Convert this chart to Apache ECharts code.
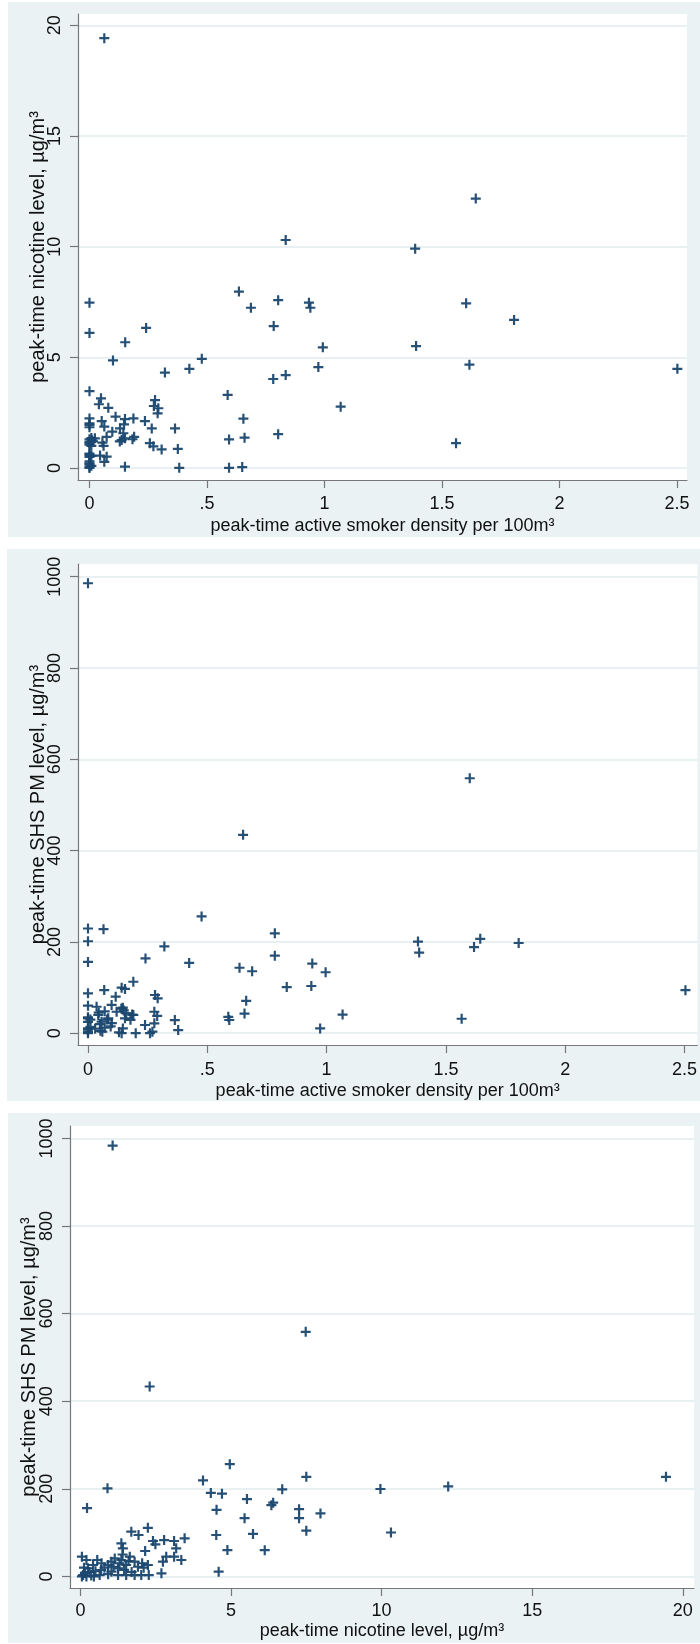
<!DOCTYPE html>
<html><head><meta charset="utf-8">
<script src="https://cdn.jsdelivr.net/npm/echarts@6/dist/echarts.min.js"></script>
<style>html,body{margin:0;padding:0;background:#fff}#c{width:700px;height:1644px}</style>
</head><body><div id="c"></div><script>
// ---- tick labels ----
const densityTicks = [0, 0.5, 1, 1.5, 2, 2.5];
const nicotineTicks = [0, 5, 10, 15, 20];
const pmTicks = [0, 200, 400, 600, 800, 1000];
// ---- titles ----
const densityTitle = 'peak-time active smoker density per 100m³';
const nicotineTitle = 'peak-time nicotine level, µg/m³';
const pmTitle = 'peak-time SHS PM level, µg/m³';
// ---- data: [density, nicotine] ----
const nicotineVsDensity = [
[0.063,19.42],[1.644,12.17],[0.835,10.3],[1.386,9.91],[0.636,7.97],[0,7.47],[0.803,7.58],[0.934,7.47],[0.94,7.24],[0.687,7.24],
[1.603,7.44],[1.807,6.69],[0.784,6.41],[0,6.10],[0.241,6.33],[0.152,5.68],[0.993,5.45],[1.39,5.51],[0.10,4.86],[0.478,4.93],
[1.617,4.67],[0.974,4.56],[2.502,4.48],[0.425,4.48],[0.321,4.31],[0.835,4.20],[0.782,4.02],[0,3.47],[0.588,3.30],[0.049,3.15],
[0.04,2.88],[0.08,2.72],[0.279,3.07],[0.274,2.80],[0.293,2.70],[0.29,2.47],[1.069,2.77],[0,2.24],[0,2.02],[0,1.84],
[0,1.95],[0.052,2.12],[0.063,1.87],[0.111,2.32],[0.151,2.21],[0.187,2.24],[0.236,2.12],[0.147,1.97],[0.13,1.79],[0.265,1.79],
[0.364,1.79],[0.655,2.23],[0.097,1.64],[0.144,1.57],[0.19,1.41],[0.183,1.30],[0.073,1.41],[0.023,1.34],[0,1.19],[0,1.30],
[0,1.05],[0,1.12],[0.01,1.25],[0.137,1.26],[0.151,1.34],[0.129,1.20],[0.594,1.29],[0.66,1.37],[0.803,1.53],[1.56,1.12],
[0.257,1.12],[0.272,0.98],[0.307,0.84],[0.376,0.86],[0,0.59],[0,0.50],[0.045,0.56],[0.073,0.51],[0.063,0.28],[0,0.21],
[0,0.16],[0,0.06],[0,0],[0.151,0.06],[0.382,0.01],[0.594,0.01],[0.65,0.04],[0,0.65],[0.008,0.55],[0,0.3],
[0.008,0.1],[0.008,1.0],[0.008,1.35],[0.015,1.2],[0.06,1.0],[0.055,1.15]
];
// ---- data: [density, PM] ----
const pmVsDensity = [
[0,985.7],[1.6,558.5],[0.65,434.7],[0.476,255.8],[0,229.4],[0.065,227.9],[0.783,218.9],[0,201.5],[1.383,200.8],[1.644,206.8],
[1.618,188.7],[1.805,197.7],[1.388,176.6],[0.32,190.2],[0.783,169.8],[0.241,163.8],[0,156.2],[0.424,154.0],[0.94,152.5],[0.635,143.4],
[0.688,135.8],[0.996,133.6],[0.833,101.1],[0.936,103.4],[2.504,94.3],[0.19,112.8],[0.141,99.7],[0.155,97],[0.068,94.6],[0,87.4],
[0.116,80],[0.281,83.7],[0.292,76.4],[0.663,70.9],[0.099,61.9],[0,60.4],[0.036,58],[0.146,56],[0.278,47],[0.656,43.0],
[1.067,40.8],[0.19,39.9],[0.043,39.9],[0.588,36],[0.592,29],[1.566,31.7],[0.364,28.9],[0.155,32.6],[0.085,32.6],[0,32.6],
[0,35],[0.01,30],[0,25],[0.057,25.2],[0.239,18],[0.278,21.7],[0.973,10.6],[0.378,7],[0.146,10.6],[0.27,3.3],
[0.2,0],[0.141,0],[0.13,2],[0.06,3.3],[0,3],[0,10.7],[0.01,14],[0,8],[0,0],[0.052,5.3],
[0.07,48],[0.16,44],[0.12,47],[0.05,20],[0.07,12],[0.08,30],[0.1,22],[0.045,45],[0.03,10],[0.15,50],
[0.26,0],[0.29,38],[0.095,15],[0.14,54],[0.185,40.8],[0.178,29.4]
];
// ---- data: [nicotine, PM] ----
const pmVsNicotine = [
[1.07,983.6],[7.48,558.3],[2.30,433.5],[4.96,256.2],[7.50,227.4],[19.44,227.4],[4.07,219.2],[0.90,201.1],[9.96,199.5],[12.21,205.3],
[6.70,198.7],[4.33,190.5],[4.70,188.8],[0.22,156.0],[5.53,176.5],[6.40,168.3],[6.34,162.6],[4.52,151.9],[7.26,153.5],[7.97,143.7],
[5.45,133.0],[7.26,133.0],[2.24,111],[7.50,104.3],[10.31,100.2],[1.69,102],[1.93,94.5],[5.73,96.9],[4.51,94.5],[2.41,80.8],
[2.49,73.3],[2.78,83],[3.11,80.8],[3.46,87],[1.36,75.6],[1.41,64],[4.88,60],[6.12,59.9],[2.15,58],[3.18,64],
[2.85,45],[3.11,45],[3.35,37.4],[2.74,33.6],[2.69,7],[4.59,10.7],[0.05,45],[0.2,37.4],[0.56,37.4],[0.09,3],
[0.25,18.5],[0.42,26],[0.69,14.6],[0.92,26],[1.03,10.7],[1.25,18.5],[1.36,37.4],[1.52,26],[1.64,45],[1.8,33.6],
[1.91,22],[2.05,30],[2.24,26],[1.8,3],[2.02,3],[2.27,3],[1.52,3],[1.25,3],[0.92,5],[0.64,3],
[0.36,2],[0.15,8],[0.3,10],[0.5,12],[0.8,20],[1.03,33.6],[1.14,41],[1.3,30],[1.45,15],[1.1,22],
[0.7,30],[0.12,20],[0.05,0],[0.2,0],[0.45,0],[1.7,10],[2.1,20],[1.6,35],[1.4,50]
];

const FONT = '"Liberation Sans", Arial, sans-serif';
const TXT = '#111';
const AXC = '#777';
const BG = '#eaf2f3';
const MARK = '#1a476f';
const PLUS = 'path://M3.9,0H6.1V3.9H10V6.1H6.1V10H3.9V6.1H0V3.9H3.9Z';
const fmtDot = v => (v === 0 ? '0' : String(v).replace(/^0\./, '.'));
const fmtPlain = v => String(v);

function xAxisCfg(gridIndex, min, max, ticks, title, margin, gap, fmt) {
  return {
    type: 'value', gridIndex, min, max,
    axisLine: { show: true, onZero: false, lineStyle: { color: AXC, width: 1.2 } },
    axisTick: { show: true, length: 8, customValues: ticks, lineStyle: { color: AXC, width: 1.2 } },
    axisLabel: { customValues: ticks, margin, color: TXT, fontSize: 18, fontFamily: FONT, formatter: fmt || fmtPlain },
    splitLine: { show: false },
    name: title, nameLocation: 'middle', nameGap: gap, nameMoveOverlap: false,
    nameTextStyle: { color: TXT, fontSize: 18, fontFamily: FONT }
  };
}
function yAxisCfg(gridIndex, min, max, ticks, title, margin, gap) {
  return {
    type: 'value', gridIndex, min, max,
    axisLine: { show: true, onZero: false, lineStyle: { color: AXC, width: 1.2 } },
    axisTick: { show: true, length: 8, customValues: ticks, lineStyle: { color: AXC, width: 1.2 } },
    axisLabel: { customValues: ticks, margin, rotate: 90, color: TXT, fontSize: 18, fontFamily: FONT, formatter: fmtPlain },
    splitLine: { show: true, lineStyle: { color: '#e8f0f2', width: 2 } },
    name: title, nameLocation: 'middle', nameGap: gap, nameRotate: 90, nameMoveOverlap: false,
    nameTextStyle: { color: TXT, fontSize: 20, fontFamily: FONT }
  };
}
function scatter(i, data) {
  return { type: 'scatter', xAxisIndex: i, yAxisIndex: i, data, symbol: PLUS, symbolSize: 10,
    itemStyle: { color: MARK, opacity: 0.95 }, silent: true, animation: false };
}

const chart = echarts.init(document.getElementById('c'), null, { renderer: 'canvas' });
chart.setOption({
  backgroundColor: '#fff',
  animation: false,
  graphic: [
    { type: 'rect', shape: { x: 8, y: 2, width: 692, height: 535 }, style: { fill: BG }, z: -10, silent: true },
    { type: 'rect', shape: { x: 7, y: 549, width: 693, height: 552 }, style: { fill: BG }, z: -10, silent: true },
    { type: 'rect', shape: { x: 8, y: 1113, width: 692, height: 530 }, style: { fill: BG }, z: -10, silent: true }
  ],
  grid: [
    { left: 78, top: 14, width: 609, height: 466, show: true, backgroundColor: '#fff', borderWidth: 0, containLabel: false },
    { left: 78, top: 564, width: 620, height: 481, show: true, backgroundColor: '#fff', borderWidth: 0, containLabel: false },
    { left: 70, top: 1126, width: 624, height: 462, show: true, backgroundColor: '#fff', borderWidth: 0, containLabel: false }
  ],
  xAxis: [
    xAxisCfg(0, -0.0489, 2.543, densityTicks, densityTitle, 15, 37, fmtDot),
    xAxisCfg(1, -0.0419, 2.554, densityTicks, densityTitle, 16, 37, fmtDot),
    xAxisCfg(2, -0.345, 20.37, nicotineTicks, nicotineTitle, 14, 34)
  ],
  yAxis: [
    yAxisCfg(0, -0.542, 20.51, nicotineTicks, nicotineTitle, 14, 30),
    yAxisCfg(1, -25.8, 1027.9, pmTicks, pmTitle, 14, 30),
    yAxisCfg(2, -26.5, 1028.3, pmTicks, pmTitle, 14, 31)
  ],
  series: [scatter(0, nicotineVsDensity), scatter(1, pmVsDensity), scatter(2, pmVsNicotine)]
});
</script></body></html>
